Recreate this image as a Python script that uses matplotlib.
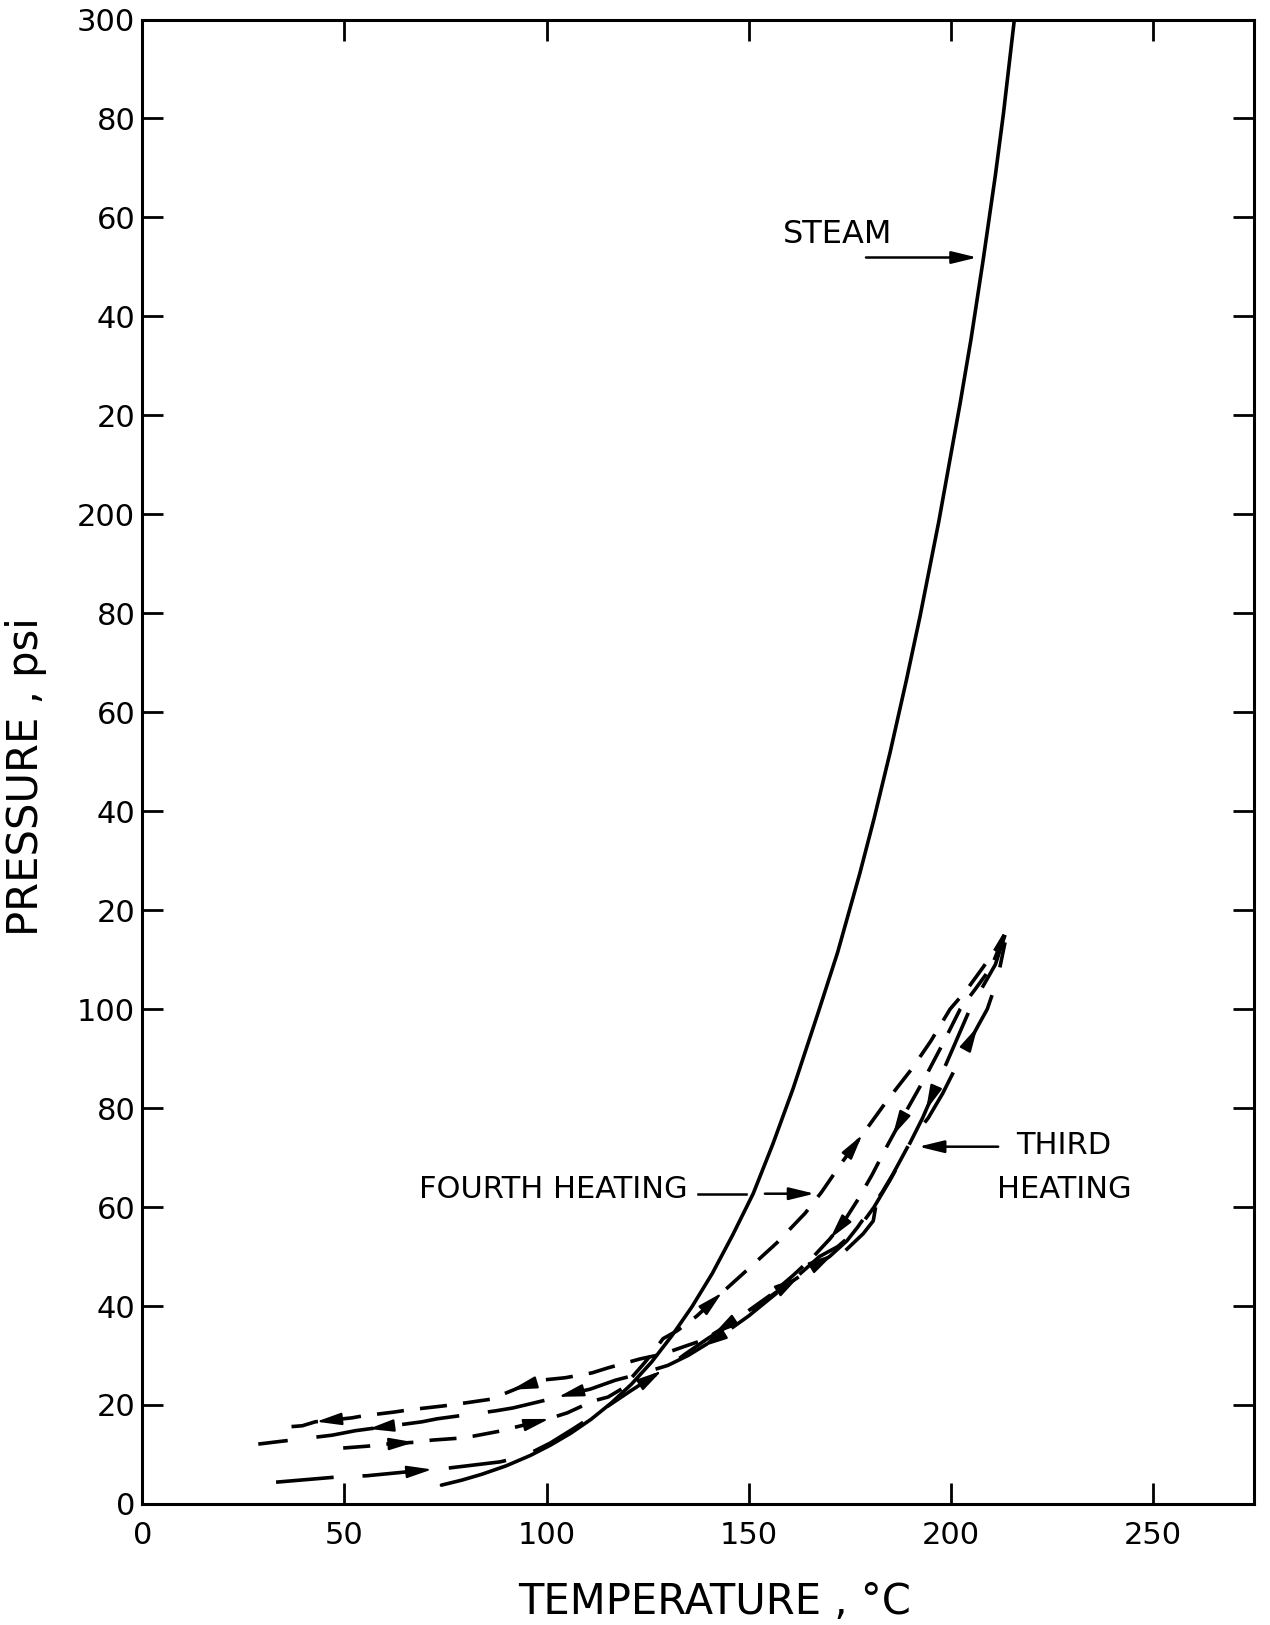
import matplotlib
matplotlib.use("Agg")
import matplotlib.pyplot as plt
import numpy as np

# Saturated steam curve (temperature C, pressure psi)
steam_t = [74, 79, 84, 90, 96, 101, 106, 111, 116, 121, 126, 131, 136, 141, 146, 151.1,
           156, 161, 167.3, 172, 177.5, 181, 185, 189, 192.4, 197, 202.3, 205, 208, 211,
           213, 215.7]
steam_p = [3.8, 4.8, 6.0, 7.7, 9.8, 11.9, 14.3, 17.1, 20.4, 24.2, 28.7, 34, 39.9, 46.6, 54.3,
           62.7, 72.8, 84, 99.6, 111.5, 127.5, 138.5, 152, 166.5, 179.5, 198.5, 222.5, 235.5,
           251.5, 268.5, 281, 300]

# Third heating - heating branch (long dash)
t3_heat_t = [33.1, 49, 55.6, 70.7, 74.2, 88.5, 92.7, 97, 100.9, 107, 114.5, 120.7, 126, 131,
             134.3, 140, 146.1, 152, 158, 163.5, 167, 170, 174.3, 177, 180, 183, 185.7,
             189.2, 191.5, 194.4, 198, 202, 206.7, 209, 211.5, 213.4]
t3_heat_p = [4.4, 5.5, 5.7, 6.9, 7.1, 8.5, 9.3, 10.7, 12.3, 15.4, 19.4, 22.8, 25.6, 28.3,
             30.3, 33.5, 36.6, 40, 43.5, 46.5, 48.5, 50, 53.2, 56, 59.5, 63, 66.7,
             72, 75, 78, 83, 89.5, 96.6, 100, 106, 113.5]

# Third heating - cooling branch (long dash)
t3_cool_t = [213.4, 211, 207.5, 204.7, 201, 197, 193, 189, 185, 181, 177, 172, 167.5, 162,
             156, 150, 144, 139, 135, 130, 124, 117, 110.8, 106, 100.9, 91.7, 87.3, 72.9,
             69.2, 52.7, 47, 28.7]
t3_cool_p = [115, 109, 104, 100, 93, 85.5, 78, 71.5, 65.5, 60, 55.5, 52, 50, 46,
             42, 38, 34.5, 32, 30, 28, 26.5, 25, 23.2, 22.3, 21.2, 19.4, 18.8, 17.2,
             16.6, 14.8, 13.9, 12.1]

# small hold step on the third heating
t3_step_t = [174.3, 178.3, 180.8, 181.3]
t3_step_p = [51.5, 54.6, 57.2, 59.6]

# Fourth heating - heating branch (short dash)
t4_heat_t = [49.7, 56.1, 60.6, 68, 71.7, 78.6, 81.9, 89, 91.7, 99.7, 105.1, 111.5, 115.2,
             118.9, 121, 124, 126, 128.8, 132.3, 137.2, 143.4, 149.9, 157, 164, 168, 173.3,
             178, 184.2, 190.4, 195, 199.8, 204, 208, 211, 213.2]
t4_heat_p = [11.3, 11.7, 12.1, 12.5, 12.9, 13.3, 13.7, 14.8, 15.4, 17, 18.4, 20.8, 21.6,
             23.4, 25.5, 28.3, 30.3, 33.4, 35, 38, 42.7, 47.5, 52.8, 58.8, 63, 69.3,
             74.5, 81.5, 88, 93.5, 100, 104, 108.5, 112, 115]

# Fourth heating - cooling branch (short dash)
t4_cool_t = [213.2, 210, 206, 202.3, 198, 193.5, 188, 184, 180.5, 177, 173.5, 170, 166, 161,
             155, 149, 143.5, 139, 134, 128.8, 123.1, 115.2, 111.3, 104.6, 99.7, 93.5, 89.3,
             86.5, 78.1, 74.4, 65.8, 62.6, 54.6, 51.9, 42.8, 39.6, 33.4]
t4_cool_p = [115, 108.5, 104, 100, 93, 86, 78, 72, 66.5, 61.5, 57, 53.5, 50, 46.2,
             42, 38.5, 35.5, 33.2, 31.8, 30.3, 29.3, 27.5, 26.5, 25.5, 25.1, 23.6, 22.2,
             21.2, 20.2, 19.8, 19, 18.6, 17.8, 17.4, 16.6, 15.8, 15.4]

# arrow positions (temperature) along each branch
t3_heat_arrows = [68.7, 126, 160, 168.4, 205.2]
t3_cool_arrows = [195, 141, 105.8, 58.9]
t4_heat_arrows = [64.3, 97.7, 141.2, 176.3]
t4_cool_arrows = [187, 172, 143.7, 94.2, 46]

x_ticks = [0, 50, 100, 150, 200, 250]
y_ticks = list(range(0, 301, 20))
y_tick_labels = ['0', '20', '40', '60', '80', '100', '20', '40', '60', '80',
                 '200', '20', '40', '60', '80', '300']

plt.rcParams['font.family'] = ['DejaVu Sans']

fig = plt.figure(figsize=(12.7, 16.25), dpi=100)
ax = fig.add_axes([0.112, 0.0745, 0.8755, 0.9135])
ax.set_xlim(0, 275)
ax.set_ylim(0, 300)

lw = 2.6
long_dash = (16, 8)
short_dash = (7.5, 4.5)

ax.plot(steam_t, steam_p, color='black', lw=lw, solid_capstyle='round',
        solid_joinstyle='round')
ax.plot(t3_heat_t, t3_heat_p, color='black', lw=lw, dashes=long_dash)
ax.plot(t3_cool_t, t3_cool_p, color='black', lw=lw, dashes=long_dash)
ax.plot(t3_step_t, t3_step_p, color='black', lw=lw)
ax.plot(t4_heat_t, t4_heat_p, color='black', lw=lw, dashes=short_dash)
ax.plot(t4_cool_t, t4_cool_p, color='black', lw=lw, dashes=short_dash)


def put_arrow(ts, ps, x0):
    ts = np.asarray(ts, float)
    ps = np.asarray(ps, float)
    for i in range(len(ts) - 1):
        a, b = ts[i], ts[i + 1]
        if min(a, b) <= x0 <= max(a, b) and a != b:
            f = (x0 - a) / (b - a)
            p0 = np.array([x0, ps[i] + f * (ps[i + 1] - ps[i])])
            d0 = ax.transData.transform([ts[i], ps[i]])
            d1 = ax.transData.transform([ts[i + 1], ps[i + 1]])
            u = (d1 - d0) / np.hypot(*(d1 - d0))
            tip = ax.transData.transform(p0) + u * 12
            tail = tip - u * 22
            inv = ax.transData.inverted()
            ax.annotate('', xy=inv.transform(tip), xytext=inv.transform(tail),
                        arrowprops=dict(arrowstyle='-|>,head_length=0.7,head_width=0.17',
                                        fc='black', ec='black', lw=1.5,
                                        shrinkA=0, shrinkB=0, mutation_scale=22))
            return


for x in t3_heat_arrows:
    put_arrow(t3_heat_t, t3_heat_p, x)
for x in t3_cool_arrows:
    put_arrow(t3_cool_t, t3_cool_p, x)
for x in t4_heat_arrows:
    put_arrow(t4_heat_t, t4_heat_p, x)
for x in t4_cool_arrows:
    put_arrow(t4_cool_t, t4_cool_p, x)

arrow_kw = dict(arrowstyle='-|>,head_length=0.7,head_width=0.17', fc='black', ec='black',
                lw=1.8, shrinkA=0, shrinkB=0, mutation_scale=22)

# labels with pointer arrows
ax.text(172, 256.5, 'STEAM', fontsize=23, ha='center', va='center')
ax.annotate('', xy=(206.5, 251.9), xytext=(179, 251.9), arrowprops=arrow_kw)

ax.text(134.8, 63.5, 'FOURTH HEATING', fontsize=22, ha='right', va='center')
ax.plot([137.5, 149.3], [62.7, 62.7], color='black', lw=1.8)
ax.annotate('', xy=(166.3, 62.7), xytext=(154, 62.7), arrowprops=arrow_kw)

ax.text(228, 72.4, 'THIRD', fontsize=22, ha='center', va='center')
ax.text(228, 63.5, 'HEATING', fontsize=22, ha='center', va='center')
ax.annotate('', xy=(192, 72.2), xytext=(211.7, 72.2), arrowprops=arrow_kw)

# axes styling
for s in ax.spines.values():
    s.set_linewidth(2.2)
ax.set_xticks(x_ticks)
ax.set_yticks(y_ticks)
ax.set_yticklabels(y_tick_labels)
ax.tick_params(direction='in', length=15, width=2, top=True, right=True,
               labelsize=22, colors='black')
ax.tick_params(axis='x', pad=12)
ax.tick_params(axis='y', pad=5)

ax.set_xlabel('TEMPERATURE , °C', fontsize=30)
ax.xaxis.set_label_coords(0.515, -0.052)
ax.set_ylabel('PRESSURE , psi', fontsize=30)
ax.yaxis.set_label_coords(-0.086, 0.49)

fig.savefig('out.png', dpi=100, facecolor='white')
